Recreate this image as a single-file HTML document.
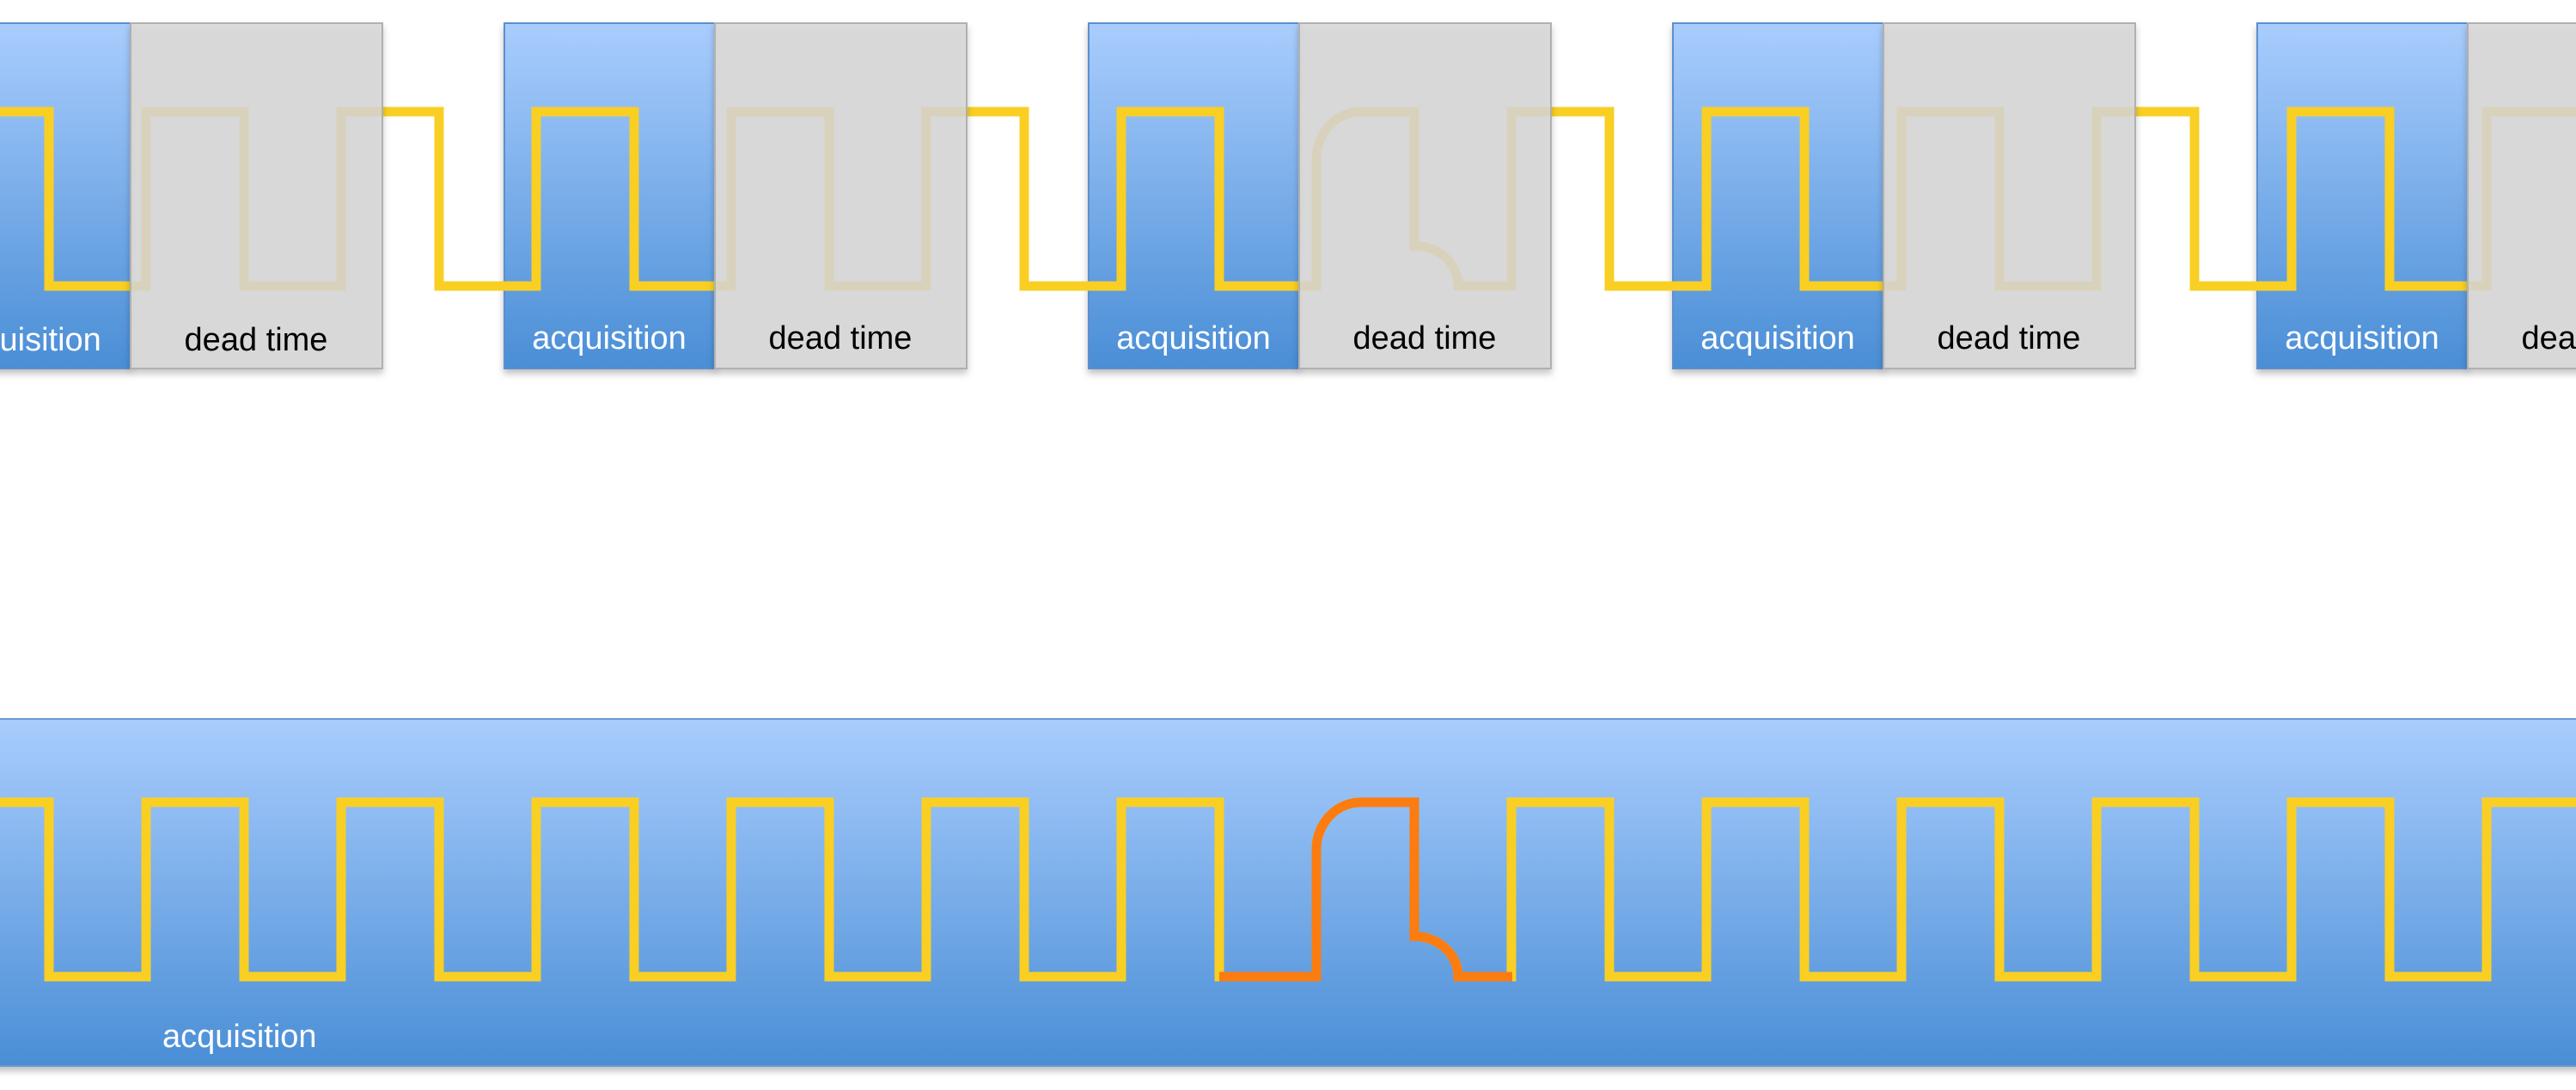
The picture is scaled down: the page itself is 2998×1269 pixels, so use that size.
<!DOCTYPE html>
<html><head><meta charset="utf-8"><style>
html,body{margin:0;padding:0;background:#fff;}
svg{display:block}
text{font-family:"Liberation Sans",sans-serif;font-size:38px;}
</style></head><body>
<svg id="s" width="2998" height="1269" viewBox="0 0 2998 1269" xmlns="http://www.w3.org/2000/svg">
<defs>
<linearGradient id="bl" x1="0" y1="0" x2="0" y2="1">
<stop offset="0" stop-color="#a9cdfd"/><stop offset="1" stop-color="#4a8ed6"/></linearGradient>
<filter id="sh" x="-5%" y="-5%" width="110%" height="115%"><feDropShadow dx="0" dy="5" stdDeviation="4" flood-color="#000" flood-opacity="0.25"/></filter>
</defs>
<g id="blue"></g>
<g id="wave"></g>
<g id="gray"></g>
<g fill="#fff">
<text x="28" y="408" text-anchor="middle">acquisition</text>
<text x="709" y="406" text-anchor="middle">acquisition</text>
<text x="1389" y="406" text-anchor="middle">acquisition</text>
<text x="2069" y="406" text-anchor="middle">acquisition</text>
<text x="2749" y="406" text-anchor="middle">acquisition</text>
<text x="189" y="1219">acquisition</text>
</g>
<g fill="#000">
<text x="298" y="408" text-anchor="middle">dead time</text>
<text x="978" y="406" text-anchor="middle">dead time</text>
<text x="1658" y="406" text-anchor="middle">dead time</text>
<text x="2338" y="406" text-anchor="middle">dead time</text>
<text x="3018" y="406" text-anchor="middle">dead time</text>
</g>
</svg>
<script>
var NS="http://www.w3.org/2000/svg";
function el(p,t,a){var e=document.createElementNS(NS,t);for(var k in a)e.setAttribute(k,a[k]);document.getElementById(p).appendChild(e);return e;}
var bx=[-93,587,1267,1947,2627];
bx.forEach(function(x){
 el("blue","rect",{x:x,y:27,width:245,height:402,fill:"url(#bl)",stroke:"#5b8fcf","stroke-width":2,filter:"url(#sh)"});
 el("gray","rect",{x:x+245,y:27,width:293,height:402,fill:"rgba(214,214,214,0.84)",stroke:"#b0b0b0","stroke-width":2,filter:"url(#sh)"});
});
el("blue","rect",{x:-5,y:837,width:3010,height:404,fill:"url(#bl)",stroke:"#6a98d0","stroke-width":2,filter:"url(#sh)"});
function wave(hi,lo,special){
 var d="M-20 "+hi;
 for(var k=0;k<14;k++){
  var f=57+227*k, r=170+227*k;
  if(special&&k==7){ d+=" L1646 "+hi+" L1646 "+(lo-47)+" A51 47 0 0 1 1697 "+lo; }
  else d+=" L"+f+" "+hi+" L"+f+" "+lo;
  if(special&&k==6){ d+=" L1532 "+lo+" L1532 "+(hi+55)+" A52 55 0 0 1 1584 "+hi; }
  else d+=" L"+r+" "+lo+" L"+r+" "+hi;
 }
 return d;
}
el("wave","path",{d:wave(130,333,true),fill:"none",stroke:"#f9cf24","stroke-width":11,"stroke-linejoin":"miter"});
el("wave","path",{d:wave(934,1137,true),fill:"none",stroke:"#f9cf24","stroke-width":11,"stroke-linejoin":"miter"});
el("wave","path",{d:"M1419 1137 L1532 1137 L1532 989 A52 55 0 0 1 1584 934 L1646 934 L1646 1090 A51 47 0 0 1 1697 1137 L1760 1137",fill:"none",stroke:"#fb7c10","stroke-width":11});
</script>
</body></html>
